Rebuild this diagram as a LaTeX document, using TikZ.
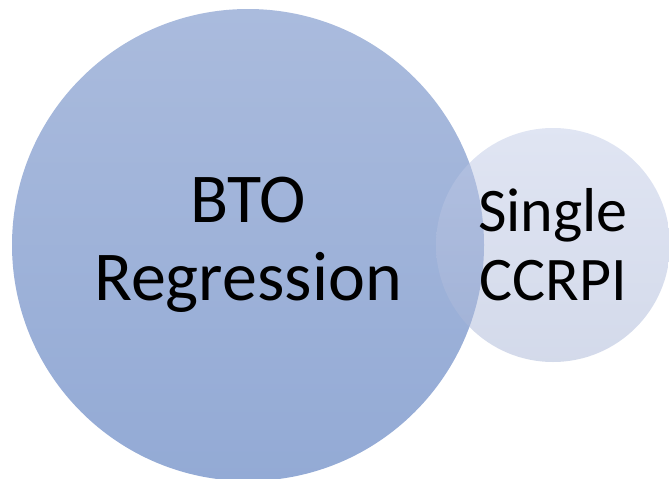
\documentclass[tikz,border=0pt]{standalone}
\usepackage{fontspec}
\setmainfont{Carlito}
\usetikzlibrary{positioning}
\definecolor{btoTop}{RGB}{170,187,221}
\definecolor{btoBottom}{RGB}{147,170,213}
\definecolor{ccrpiTop}{RGB}{193,203,231}
\definecolor{ccrpiBottom}{RGB}{168,181,214}
\tikzset{%
	% Specifications for style of circles:
	base/.style = {circle, inner sep=0pt, align=center, text=black},
	bigCircle/.style = {base, minimum size=472pt, top color=btoTop, bottom color=btoBottom,
		font=\fontsize{70pt}{78pt}\selectfont},
	smallCircle/.style = {base, minimum size=234pt, top color=ccrpiTop, bottom color=ccrpiBottom,
		fill opacity=0.5, text opacity=1, font=\fontsize{62pt}{69pt}\selectfont}
}
\begin{document}
\begin{tikzpicture}[x=1pt, y=-1pt]
	\useasboundingbox (0,0) rectangle (669,479);
	\node (bto) [bigCircle] at (248,245) {BTO\\Regression};
	\node (ccrpi) [smallCircle] at (553,245) {Single\\CCRPI};
\end{tikzpicture}
\end{document}
